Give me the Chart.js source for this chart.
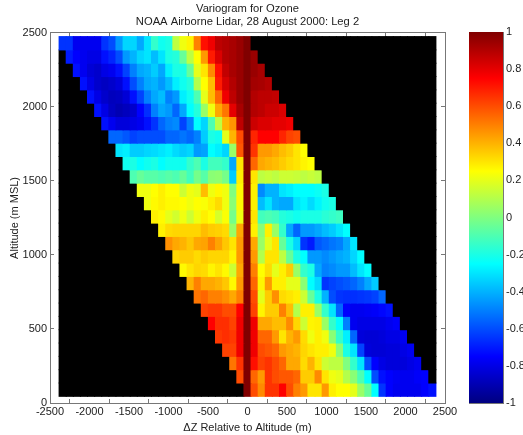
<!DOCTYPE html>
<html>
    <head>
        <meta charset="utf-8"/>
        <title>Variogram for Ozone</title>
        <script src="https://cdn.jsdelivr.net/npm/chart.js@4/dist/chart.umd.min.js"></script>
        <style>
            body { margin: 0; background: #fff; overflow: hidden; }
            canvas { position: absolute; top: 0; filter: blur(0.5px); }
            #chart { left: 0; }
            #colorbar { left: 460px; }
        </style>
    </head>

    <body>
        <canvas id="chart" width="494" height="435"></canvas>
        <canvas id="colorbar" width="63" height="435"></canvas>

        <script>
            var titleLines = ['Variogram for Ozone', 'NOAA Airborne Lidar, 28 August 2000: Leg 2'];
            var xLabel = '\u0394Z Relative to Altitude (m)';
            var yLabel = 'Altitude (m MSL)';

            // bin centres, top row first
            var altitudes = [2430, 2340, 2250, 2160, 2070, 1980, 1890, 1800, 1710, 1620, 1530, 1440, 1350, 1260,
                1170, 1080, 990, 900, 810, 720, 630, 540, 450, 360, 270, 180, 90];
            var lags = [-2340, -2250, -2160, -2070, -1980, -1890, -1800, -1710, -1620, -1530, -1440, -1350, -1260,
                -1170, -1080, -990, -900, -810, -720, -630, -540, -450, -360, -270, -180, -90, 0,
                90, 180, 270, 360, 450, 540, 630, 720, 810, 900, 990, 1080, 1170, 1260, 1350, 1440, 1530, 1620,
                1710, 1800, 1890, 1980, 2070, 2160, 2250, 2340];
            var binSize = 90;

            // correlation per row, row n starts at lag column n
            var variogram = [
                [-.65,-.65,-.78,-.78,-.78,-.78,-.65,-.6,-.45,-.33,-.33,-.42,-.3,-.15,-.22,-.2,.12,.22,.27,.5,.72,.78,.88,.9,.92,.95,1],
                [-.7,-.75,-.78,-.8,-.8,-.72,-.68,-.6,-.45,-.4,-.33,-.3,-.38,-.3,-.2,-.18,-.05,.12,.25,.45,.7,.82,.9,.92,.95,1,.95],
                [-.72,-.78,-.83,-.85,-.8,-.78,-.72,-.62,-.5,-.42,-.4,-.35,-.42,-.28,-.2,-.2,-.05,.2,.3,.48,.72,.87,.92,.95,1,.95,.92],
                [-.72,-.8,-.85,-.87,-.85,-.82,-.72,-.6,-.5,-.42,-.4,-.45,-.38,-.28,-.22,-.18,.1,.25,.38,.7,.83,.9,.95,1,.93,.92,.9],
                [-.72,-.8,-.85,-.88,-.87,-.83,-.72,-.62,-.5,-.42,-.38,-.5,-.45,-.28,-.22,-.1,.2,.38,.55,.78,.88,.95,1,.9,.88,.88,.87],
                [-.72,-.8,-.87,-.9,-.88,-.85,-.75,-.66,-.5,-.42,-.45,-.55,-.42,-.25,-.18,.05,.22,.42,.52,.8,.92,1,.9,.88,.85,.85,.82],
                [-.72,-.78,-.82,-.82,-.8,-.78,-.72,-.65,-.55,-.5,-.48,-.62,-.5,-.25,-.33,-.1,.12,.4,.46,.88,1,.85,.82,.82,.8,.8,.78],
                [-.55,-.55,-.58,-.62,-.6,-.6,-.6,-.6,-.55,-.55,-.52,-.55,-.5,-.35,-.2,-.22,.2,.4,.6,1,.68,.75,.75,.75,.68,.62,.6],
                [-.3,-.28,-.35,-.35,-.33,-.32,-.3,-.28,-.32,-.35,-.33,-.45,-.43,-.25,-.28,-.33,.05,.58,1,.65,.45,.45,.42,.38,.35,.3,.25],
                [-.22,-.2,-.25,-.22,-.2,-.25,-.22,-.22,-.22,-.15,-.1,-.2,-.12,-.12,-.15,-.42,.3,1,.55,.42,.4,.38,.35,.32,.3,.27,.25],
                [-.1,-.05,-.08,-.08,-.1,-.08,-.1,-.05,-.12,-.02,-.08,.02,.03,-.02,-.35,.28,1,.3,.12,.14,.12,.15,.15,.14,.12,.14,.12],
                [.22,.22,.25,.28,.25,.25,.15,.22,.2,.38,.22,.26,.22,0,.26,1,.28,-.48,-.4,-.4,-.3,-.28,-.25,-.25,-.25,-.23,-.2],
                [.22,.26,.28,.26,.26,.25,.22,.25,.24,.28,.32,.22,.02,.26,1,.28,-.38,-.3,-.4,-.42,-.42,-.3,-.27,-.32,-.27,-.22,-.2],
                [.28,.26,.2,.16,.22,.15,.22,.28,.25,.17,.24,-.02,.22,1,.3,-.12,-.1,-.12,-.18,-.2,-.22,-.2,-.2,-.2,-.17,-.15,-.13],
                [.28,.32,.33,.33,.33,.33,.38,.35,.34,.32,.05,.42,1,.28,.02,.28,.05,-.15,-.42,-.55,-.45,-.45,-.42,-.38,-.35,-.3,-.25],
                [.47,.42,.4,.36,.42,.43,.5,.43,.36,.3,.45,1,.42,.05,.2,.3,-.05,-.2,-.33,-.65,-.7,-.58,-.55,-.52,-.5,-.42,-.3],
                [.33,.35,.35,.32,.35,.33,.33,.33,.27,.45,1,.45,.1,.3,.3,.12,-.05,-.2,-.25,-.45,-.45,-.48,-.45,-.42,-.4,-.33,-.25],
                [.26,.3,.33,.32,.27,.3,.26,.15,.42,1,.5,.25,.32,.2,.28,.35,.05,-.15,-.2,-.42,-.5,-.48,-.45,-.45,-.38,-.3,-.25],
                [.4,.5,.42,.42,.4,.36,.26,.45,1,.55,.27,.45,.28,.28,.2,.2,.02,-.25,-.32,-.65,-.62,-.6,-.58,-.55,-.5,-.42,-.35],
                [.52,.55,.5,.5,.47,.42,.5,1,.6,.2,.35,.47,.32,.3,.28,.15,-.05,-.2,-.4,-.6,-.65,-.66,-.66,-.65,-.64,-.62,-.55],
                [.62,.64,.64,.6,.6,.75,1,.62,.27,.35,.35,.5,.38,.1,.28,.28,.05,-.15,-.3,-.55,-.75,-.78,-.78,-.77,-.76,-.74,-.72],
                [.75,.66,.66,.62,.78,1,.78,.42,.42,.38,.38,.48,.33,.15,.27,.28,.05,-.15,-.25,-.5,-.78,-.8,-.8,-.8,-.8,-.78,-.76],
                [.64,.66,.64,.78,1,.78,.55,.55,.45,.3,.4,.45,.32,.22,.28,.22,.02,-.15,-.28,-.55,-.82,-.83,-.83,-.82,-.8,-.8,-.78],
                [.62,.62,.78,1,.78,.6,.58,.55,.45,.42,.4,.33,.3,.28,.28,.22,.02,-.2,-.3,-.62,-.82,-.83,-.83,-.82,-.82,-.8,-.78],
                [.52,.65,1,.72,.62,.65,.6,.55,.42,.42,.32,.4,.3,.15,.12,.12,0,-.15,-.3,-.6,-.75,-.8,-.82,-.82,-.82,-.8,-.78],
                [.6,1,.55,.45,.65,.6,.58,.58,.55,.35,.35,.48,.3,.22,.2,.1,.02,-.1,-.25,-.6,-.72,-.75,-.77,-.78,-.78,-.76,-.75],
                [1,.6,.48,.65,.65,.75,.6,.5,.45,.3,.3,.45,.28,.25,.25,.2,.05,-.05,-.25,-.65,-.75,-.78,-.78,-.78,-.78,-.75,-.72]
            ];

            var xTicks = [-2500, -2000, -1500, -1000, -500, 0, 500, 1000, 1500, 2000, 2500];
            var yTicks = [0, 500, 1000, 1500, 2000, 2500];
            var barTicks = [-1, -0.8, -0.6, -0.4, -0.2, 0, 0.2, 0.4, 0.6, 0.8, 1];
            var jetStops = [[0, '#000080'], [0.125, '#0000ff'], [0.375, '#00ffff'], [0.625, '#ffff00'], [0.875, '#ff0000'], [1, '#800000']];

            var font = { family: '"Liberation Sans", Arial, sans-serif', size: 11 };
            var axisColor = '#777';
            var tickLen = -4;

            var clamp = function(v) { return Math.round(255 * Math.max(0, Math.min(1, v))); };

            var jet = function(v) {
                var t = (v + 1) / 2;
                var r = clamp(Math.min(4 * t - 1.5, -4 * t + 4.5));
                var g = clamp(Math.min(4 * t - 0.5, -4 * t + 3.5));
                var b = clamp(Math.min(4 * t + 0.5, -4 * t + 2.5));
                return "rgb(" + r + "," + g + "," + b + ")";
            };

            // one floating bar dataset per altitude, cells without data stay black
            var datasets = altitudes.map(function(alt, row) {
                var colors = [];
                var cells = lags.map(function(lag, col) {
                    var value = variogram[row][col - row];
                    colors.push(value === undefined ? '#000' : jet(value));
                    return { x: lag, y: [alt - binSize / 2, alt + binSize / 2] };
                });
                return {
                    data: cells,
                    backgroundColor: colors,
                    borderWidth: 0,
                    inflateAmount: 0.5,
                    grouped: false,
                    barPercentage: 1,
                    categoryPercentage: 1
                };
            });

            var setTicks = function(values) {
                return function(axis) {
                    axis.ticks = values.map(function(v) { return { value: v }; });
                };
            };

            var plainLabel = function(v) { return String(v); };

            var boxGrid = { drawOnChartArea: false, color: axisColor, tickLength: tickLen };
            var boxBorder = { display: true, color: axisColor };

            new Chart(document.getElementById("chart"), {
                type: 'bar',
                data: { datasets: datasets },
                options: {
                    responsive: false,
                    animation: false,
                    layout: { padding: { left: 8, right: 49, bottom: 0, top: 0 } },
                    plugins: {
                        legend: { display: false },
                        tooltip: { enabled: false },
                        title: {
                            display: true,
                            fullSize: false,
                            text: titleLines,
                            color: '#222',
                            font: { family: font.family, size: 11.2, weight: 'normal', lineHeight: 1.2 },
                            padding: { top: 2, bottom: 4 }
                        }
                    },
                    scales: {
                        x: {
                            type: 'linear',
                            position: 'bottom',
                            offset: false,
                            min: -2500,
                            max: 2500,
                            afterBuildTicks: setTicks(xTicks),
                            afterFit: function(axis) { axis.height = 32; },
                            grid: boxGrid,
                            border: boxBorder,
                            ticks: { color: '#222', font: font, maxRotation: 0, autoSkip: false, padding: 6, callback: plainLabel },
                            title: { display: true, text: xLabel, color: '#222', font: font, padding: 0 }
                        },
                        y: {
                            type: 'linear',
                            position: 'left',
                            min: 0,
                            max: 2500,
                            afterBuildTicks: setTicks(yTicks),
                            afterFit: function(axis) { axis.width = 42; },
                            grid: boxGrid,
                            border: boxBorder,
                            ticks: { color: '#222', font: font, padding: 7, callback: plainLabel },
                            title: { display: true, text: yLabel, color: '#222', font: font, padding: 0 }
                        },
                        xTop: {
                            type: 'linear',
                            position: 'top',
                            offset: false,
                            min: -2500,
                            max: 2500,
                            afterBuildTicks: setTicks(xTicks),
                            afterFit: function(axis) { axis.height = 0; },
                            grid: boxGrid,
                            border: boxBorder,
                            ticks: { display: false }
                        },
                        yRight: {
                            type: 'linear',
                            position: 'right',
                            min: 0,
                            max: 2500,
                            afterBuildTicks: setTicks(yTicks),
                            afterFit: function(axis) { axis.width = 0; },
                            grid: boxGrid,
                            border: boxBorder,
                            ticks: { display: false }
                        }
                    }
                }
            });

            // colour bar
            var barFill = function(context) {
                var area = context.chart.chartArea;
                if (!area) return '#000';
                var gradient = context.chart.ctx.createLinearGradient(0, area.bottom, 0, area.top);
                jetStops.forEach(function(stop) { gradient.addColorStop(stop[0], stop[1]); });
                return gradient;
            };

            new Chart(document.getElementById("colorbar"), {
                type: 'bar',
                data: {
                    labels: [''],
                    datasets: [{
                        data: [[-1, 1]],
                        backgroundColor: barFill,
                        borderWidth: 0,
                        barPercentage: 1,
                        categoryPercentage: 1
                    }]
                },
                options: {
                    responsive: false,
                    animation: false,
                    layout: { padding: { left: 9, right: 0, top: 32, bottom: 32 } },
                    plugins: { legend: { display: false }, tooltip: { enabled: false } },
                    scales: {
                        x: {
                            position: 'bottom',
                            afterFit: function(axis) { axis.height = 0; },
                            grid: { display: false },
                            border: boxBorder,
                            ticks: { display: false }
                        },
                        y: {
                            position: 'right',
                            min: -1,
                            max: 1,
                            afterBuildTicks: setTicks(barTicks),
                            afterFit: function(axis) { axis.width = 20; },
                            grid: { drawOnChartArea: false, color: axisColor, tickLength: -3 },
                            border: boxBorder,
                            ticks: { color: '#222', font: font, padding: 6, callback: plainLabel }
                        }
                    }
                }
            });
        </script>
    </body>
</html>
